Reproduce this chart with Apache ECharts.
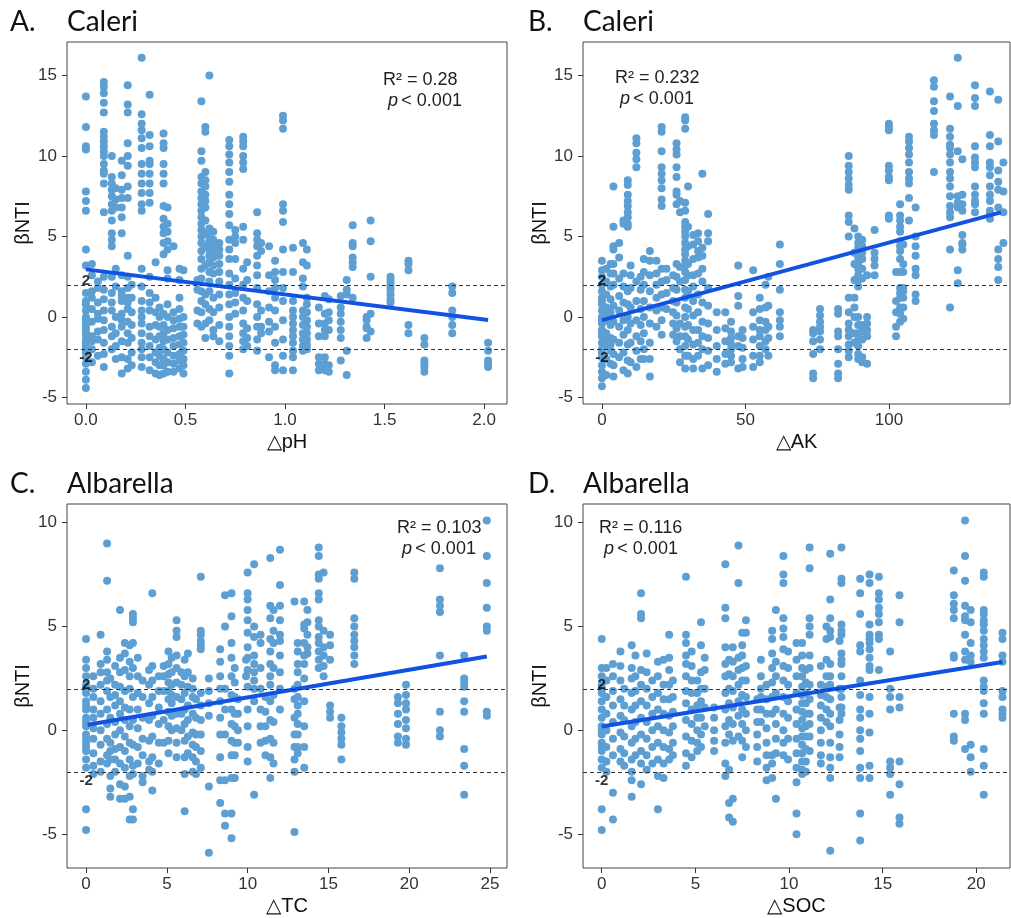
<!DOCTYPE html>
<html>
<head>
<meta charset="utf-8">
<script src="https://cdn.jsdelivr.net/npm/echarts@6/dist/echarts.min.js"></script>
<style>
html,body{margin:0;padding:0;background:#fff;}
#chart{width:1011px;height:918px;}
</style>
</head>
<body>
<div id="chart"></div>
<script>
// ---------- DATA (columns: [x, [beta NTI values]]) ----------
const caleriPH = [
 [0.00,[13.7,11.8,10.6,10.4,7.8,7.2,6.6,4.2,3.2,1.5,1.0,0.4,0.0,-0.4,-0.8,-1.1,-1.4,-1.8,-2.2,-2.5,-2.9,-3.4,-3.9,-4.4,-0.2,-1.0,-1.6,-2.0,0.8,-0.6]],
 [0.03,[3.3,2.6,1.6,0.5,-0.3,-1.2,-2.0,-2.8,1.2,-1.5]],
 [0.06,[1.8,0.9,-0.1,-0.9,-1.4,-2.4,2.2,0.2]],
 [0.09,[14.6,14.3,13.9,13.3,12.7,11.5,11.2,10.9,10.6,10.3,10.0,9.5,9.1,8.9,8.3,6.5,2.5,1.7,1.1,0.4,-0.2,-0.8,-1.6,-2.3,-3.1]],
 [0.13,[10.0,8.7,8.3,7.9,7.5,7.0,6.6,6.0,5.2,4.8,4.4,2.5,1.5,0.4,-0.6,-1.2,-2.0,0.9]],
 [0.15,[8.0,7.3,6.8,3.0,1.9,0.0,-1.0,-1.8,-2.6]],
 [0.18,[9.7,8.8,7.9,7.4,6.8,6.2,5.2,2.6,1.6,1.0,0.2,-0.6,-1.5,-2.5,-3.5,1.3,-0.2]],
 [0.21,[14.4,13.2,12.7,10.8,10.0,9.4,8.1,7.4,3.8,2.5,1.8,1.2,0.5,-0.3,-1.6,-2.6,-3.2,0.9,-1.0]],
 [0.23,[2.0,1.2,0.3,-0.5,-1.3,-2.2,-3.0]],
 [0.28,[16.1,12.6,12.0,11.6,11.1,10.5,9.5,8.9,8.3,7.7,7.0,6.6,3.0,1.9,1.0,0.4,-0.4,-1.0,-1.6,-2.5,-3.1,-2.0,0.0]],
 [0.32,[13.8,11.3,10.6,9.7,9.5,8.9,8.3,7.7,7.1,2.5,1.5,0.9,0.4,-0.6,-1.2,-1.8,-2.5,-3.3]],
 [0.35,[3.4,1.2,0.3,-0.5,-1.4,-2.2,-2.8,-3.5]],
 [0.37,[0.6,0.0,-0.6,-1.2,-1.9,-2.4,-3.0,-3.6]],
 [0.39,[11.4,10.8,10.5,9.5,8.9,8.3,6.9,6.1,5.6,5.2,4.6,3.9,-0.5,-1.0,-1.5,-2.0,-2.6,-3.0,0.2,-3.5]],
 [0.41,[6.8,5.8,5.3,4.7,4.2,2.9,2.4,0.8,0.0,-0.8,-1.4,-2.2,-2.8,-3.4]],
 [0.44,[4.4,0.3,-0.2,-0.7,-1.3,-1.8,-2.4,-2.9,-3.4]],
 [0.47,[3.0,2.3,1.2,0.5,-0.1,-0.6,-1.2,-1.7,-2.3,-2.7,-3.2]],
 [0.49,[2.9,0.0,-0.6,-1.1,-1.6,-2.1,-2.6,-3.0,-3.5]],
 [0.56,[2.3,1.7,0.4,-0.4]],
 [0.58,[13.4,10.3,9.7,8.7,8.3,7.8,7.4,7.0,6.6,6.2,5.8,5.4,5.0,4.6,4.1,3.6,3.0,2.4,1.6,1.0,0.3,-0.6]],
 [0.60,[11.8,11.5,9.0,8.5,8.1,7.6,7.2,6.8,6.0,5.2,4.4,3.2,1.4,0.8,-0.4,-1.3]],
 [0.62,[15.0,5.5,5.0,4.7,4.2,3.8,3.4,2.8,2.2,1.6,0.5,-0.2]],
 [0.64,[5.3,4.8,4.5,4.1,3.7,3.2,2.7,1.2,0.3,-0.8,-1.2]],
 [0.67,[4.6,4.2,3.8,3.3,2.8,2.2,1.4,0.6,-0.5,-1.5]],
 [0.72,[11.0,10.6,10.1,9.6,9.0,8.4,7.6,7.0,6.4,5.7,4.8,4.2,3.6,2.7,2.0,1.4,0.8,0.0,-0.6,-1.2,-1.8,-2.4,-3.5]],
 [0.75,[5.4,5.0,4.6,3.6,2.4,1.5,0.9,0.2]],
 [0.79,[11.2,10.9,10.6,10.0,9.6,9.2,5.6,4.8,3.0,2.0,1.2,0.4,-0.4,-1.0,-1.5,-2.0]],
 [0.81,[3.4,2.3,1.0,-0.7,-1.3,-1.8]],
 [0.86,[6.5,5.2,4.8,4.4,3.8,3.2,2.6,1.8,0.8,0.0,-0.6,-1.4,-2.1]],
 [0.88,[4.6,4.1,0.4,-0.6,-1.0]],
 [0.92,[4.4,2.6,1.6,0.6,-0.3,-0.9,-2.5]],
 [0.95,[3.5,2.8,2.3,1.8,1.2,0.4,-0.6,-1.6,-3.0,-3.3]],
 [0.99,[12.5,12.2,11.7,7.0,6.6,5.9,4.2,2.8,1.8,1.0,-0.2,-1.4,-2.4,-3.3]],
 [1.04,[4.3,2.8,1.0,0.4,0.0,-0.4,-0.8,-1.2,-1.6,-2.1,-2.5,-3.3]],
 [1.09,[4.6,3.4,2.4,1.9,0.4,0.0,-0.5,-1.0,-1.4,-1.8,-2.1]],
 [1.11,[4.2,3.2,1.2,0.8,0.3,-0.2,-0.6,-1.0,-1.4,-1.7,-2.0]],
 [1.17,[0.6,-0.4,-1.2,-2.5,-2.9,-3.3]],
 [1.20,[1.3,0.2,-0.4,-0.8,-1.2,-2.5,-2.9,-3.3]],
 [1.22,[1.1,0.3,-0.2,-0.8,-3.0,-3.4]],
 [1.28,[1.3,0.6,0.2,-0.3,-0.8,-1.3,-2.7]],
 [1.31,[2.3,1.7,1.4,-2.1,-3.6]],
 [1.34,[5.7,4.6,4.4,3.7,3.4,3.1,1.2]],
 [1.41,[0.0,-0.2,-0.6,-0.7,-1.3]],
 [1.43,[6.0,4.7,2.5,0.2,-0.9]],
 [1.53,[2.5,2.3,2.1,1.9,1.7,1.4,1.1,0.9]],
 [1.62,[3.5,3.3,2.9,-0.5,-1.0]],
 [1.70,[-1.3,-1.7,-2.7,-2.9,-3.1,-3.4]],
 [1.84,[1.9,1.5,0.4,0.0,-0.5,-1.0]],
 [2.02,[-1.6,-2.1,-2.7,-2.9,-3.1]]
];
const caleriAK = [
 [0,[3.5,2.9,2.5,2.0,1.6,1.2,0.8,0.4,0.0,-0.4,-0.8,-1.2,-1.6,-2.0,-2.5,-3.0,-3.4,-3.8,-4.3,1.0,-0.2,-1.0,-2.2]],
 [1.5,[3.0,2.2,1.4,0.6,-0.2,-1.0,-1.8,-2.6,-3.6,0.2,-1.4]],
 [3,[3.3,2.7,1.9,1.1,0.3,-0.5,-1.3,-2.1,-2.9,-1.7]],
 [4,[8.1,5.6,4.4,4.2,3.3,2.7,2.0,0.7,-0.3,-1.4,-2.3,-3.0,-3.7]],
 [6,[4.6,3.7,2.4,1.3,0.4,-0.6,-1.6,-2.5]],
 [7.5,[6.0,5.8,2.7,1.9,0.9,-0.2,-1.1,-2.2,-3.3]],
 [9,[8.5,8.2,7.6,7.2,6.9,6.5,6.2,5.8,5.6,1.6,0.8,0.0,-0.8,-1.7,-2.7,-3.5]],
 [10,[3.2,2.6,1.8,0.6,-0.4,-1.6,-2.8]],
 [12,[11.1,10.8,10.2,9.8,9.3,2.2,1.0,-0.2,-1.2,-2.1,-3.1]],
 [13.5,[2.5,1.7,0.5,-0.5,-1.5,-2.6]],
 [14.6,[3.6,2.8,2.0,1.0,0.0,-1.0,-2.0,-2.6]],
 [16.7,[4.1,3.5,2.6,1.6,0.6,-0.4,-1.6,-2.6,-3.7]],
 [19,[3.5,2.7,2.0,1.2,0.4,-0.6]],
 [20.8,[11.8,11.5,10.3,9.3,8.9,8.5,8.0,7.3,6.9,3.0,2.2,1.4,0.6,-0.2,-1.1]],
 [22.5,[3.0,2.3,1.5,0.5]],
 [24.8,[2.6,1.8,1.0,0.3,-0.4,-1.1]],
 [26,[10.8,10.4,10.1,9.3,8.7,7.8,7.6,7.0,3.3,2.5,1.7,0.9,0.1,-0.7,-1.5]],
 [27.2,[7.2,6.5,3.1,2.2,-0.4,-1.2,-2.0,-2.8]],
 [29,[12.4,12.2,11.7,7.1,6.6,5.9,5.6,5.3,5.0,4.6,4.2,3.9,3.5,3.2,2.8,2.3,1.7,1.2,0.6,0.0,-0.6,-1.2,-1.8,-2.4,-3.2]],
 [30,[8.1,5.6,4.4,3.3,2.6,1.6,0.5,-0.5,-1.4,-2.4]],
 [31.8,[5.1,4.5,3.6,2.6,1.9,1.0,0.1,-0.8,-1.7,-2.6,-3.2]],
 [33.5,[5.2,4.7,4.1,3.7,2.7,1.4,0.3,-0.8,-1.6,-2.4]],
 [35,[8.9,4.3,3.8,3.0,2.2,0.9,-0.3,-1.2,-2.0,-3.2]],
 [37,[6.4,5.2,4.7,1.8,0.7,-0.4,-1.3,-2.1,-3.0]],
 [40,[0.3,-0.8,-1.8,-2.6,-3.4]],
 [43,[0.3,-0.7,-1.5,-2.3,-2.9]],
 [45,[-0.3,-0.9,-1.3,-1.7,-2.0,-2.4,-2.8]],
 [47.5,[3.2,1.3,0.7,-1.2,-1.8,-3.2]],
 [49,[-0.8,-1.3,-1.9,-2.6,-3.1]],
 [52.7,[2.9,0.3,-0.6,-1.4,-2.4,-3.1]],
 [55,[1.2,0.5,-0.2,-0.8,-1.2,-1.8,-2.4,-2.8]],
 [57,[2.0,0.6,-0.3,-0.8,-1.5,-2.0]],
 [58,[2.5,0.7,-0.6,-1.3,-2.4]],
 [62,[4.5,3.3,1.7,0.3,-0.2,-0.6,-1.2]],
 [73.6,[-0.8,-1.0,-1.5,-2.3,-3.5,-3.8]],
 [76,[0.5,0.1,-0.3,-0.6,-0.9,-1.4,-2.0]],
 [82.3,[0.5,0.2,-0.9,-1.2,-2.0,-2.9,-3.5,-3.8]],
 [86,[10.0,9.4,9.0,8.6,8.2,7.9,6.3,5.9,5.0,1.2,0.3,-0.4,-0.8,-1.2,-1.7,-2.1,-2.5]],
 [88,[5.5,4.0,3.3,2.3,1.2,0.6,0.0,-1.0,-1.6]],
 [89.3,[5.0,4.6,4.3,3.7,3.3,3.0,2.6,2.3,1.9,0.0,-0.5,-1.0,-1.4,-1.8,-2.3,-2.6]],
 [90.7,[4.8,4.4,4.0,3.6,3.0,2.4,-0.5,-0.9,-1.4,-2.5,-2.8]],
 [92.4,[2.6,0.0,-0.4,-0.8,-1.2,-2.9]],
 [95,[5.4,4.0,3.6,3.2,2.6]],
 [100,[12.0,11.8,11.6,9.4,9.1,8.7,8.5,6.3,6.1]],
 [102.5,[2.8,1.0,0.3,-0.6,-1.2]],
 [103.9,[7.0,6.3,6.0,5.6,5.3,4.7,4.4,4.1,3.6,2.8,1.8,1.5,1.2,0.6,0.2,-0.3]],
 [105,[4.5,3.3,2.8,1.8,1.6,1.2,0.6,-0.1]],
 [107,[11.2,10.9,10.5,10.1,9.6,9.0,8.6,8.3,7.4,6.0]],
 [109.3,[6.8,5.0,4.4,3.8,3.0,2.6,1.4,1.0]],
 [115.7,[14.7,14.3,13.4,12.8,12.0,11.6,11.3,9.0]],
 [121.3,[13.7,11.7,11.2,10.7,10.5,10.1,9.6,9.0,8.6,8.1,7.5,6.9,6.5,6.2,4.2,0.6]],
 [124,[16.1,13.1,10.3,7.5,7.1,6.8,2.9,2.1]],
 [125.6,[9.8,7.6,7.0,6.6,5.1,4.6,4.5,4.2]],
 [130,[14.4,13.6,13.1,10.6,9.9,9.6,9.3,8.1,7.6,7.2,7.0,6.5]],
 [135.2,[14.0,11.3,10.6,9.6,9.3,8.8,8.1,7.6,7.2,6.6,6.4,6.1]],
 [138.1,[13.5,10.9,9.1,8.4,7.9,6.8,4.2,3.6,3.1,2.3]],
 [139.9,[9.6,7.8,6.5,4.6]]
];
const albarellaTC = [
 [0,[4.4,3.4,3.0,2.6,2.2,1.8,1.4,1.0,0.6,0.2,-0.2,-0.6,-1.0,-1.4,-1.8,2.0,0.4,-0.8,-3.8,-4.8,1.2,-0.4]],
 [0.45,[2.6,2.0,1.6,1.0,0.6,0.1,-0.4,-1.1,-1.7,-2.1]],
 [0.9,[4.6,3.2,2.8,2.2,1.4,0.8,0.0,-0.7,-1.5,-2.0]],
 [1.3,[9.0,7.2,3.8,3.4,2.8,2.4,1.9,1.0,0.3,-0.4,-1.2,-1.6]],
 [1.5,[2.5,1.6,0.6,-0.6,-1.0,-1.4,-2.2,-2.8,-3.2]],
 [1.8,[3.1,2.2,1.7,1.2,0.4,-0.2,-0.9,-1.4,-2.0]],
 [2.1,[5.8,3.5,2.8,2.1,1.4,0.8,0.0,-0.8,-1.6,-2.6,-3.3]],
 [2.4,[4.2,3.7,2.9,1.9,1.1,0.5,-0.3,-1.0,-1.8,-2.7,-3.3]],
 [2.7,[4.1,3.3,2.6,2.0,1.0,0.2,-0.6,-1.4,-2.2,-3.2,-4.3]],
 [2.9,[5.6,5.4,5.2,4.2,3.0,1.6,0.5,-0.7,-1.7,-2.1,-3.8,-4.3]],
 [3.2,[3.5,2.6,1.8,1.0,0.1,-0.8,-1.6]],
 [3.5,[2.4,1.6,0.6,-0.4,-1.2,-2.2,-2.5]],
 [3.9,[2.9,2.2,1.3,0.5,-0.5,-1.5,-1.9]],
 [4.1,[6.6,3.1,2.4,1.6,0.7,-0.3,-1.3,-2.0,-2.9]],
 [4.5,[2.6,1.9,1.1,0.3,-0.6,-1.6]],
 [4.8,[3.1,2.6,1.9,0.5,-0.6]],
 [5.1,[3.8,3.2,2.7,2.3,1.9,1.5,0.9,0.2,-0.5,-1.1]],
 [5.3,[3.5,2.8,2.2,1.7,1.3,0.7,0.0]],
 [5.6,[5.3,4.8,4.5,3.6,3.0,2.3,1.6,0.8,0.1,-0.6,-1.3]],
 [5.9,[2.8,2.2,1.5,0.8,0.0]],
 [6.1,[3.4,2.6,1.8,1.0,0.3,-0.5,-1.3,-2.1,-3.9]],
 [6.3,[3.7,2.8,2.1,1.2,0.5,-0.3,-1.1]],
 [6.6,[2.5,2.0,1.6,0.8,-0.1,-0.7,-1.3,-2.0]],
 [6.8,[1.5,0.6,-0.2,-0.8,-1.5,-2.1]],
 [7.1,[7.4,4.8,4.6,4.3,4.1,3.9,1.8,1.2,0.5,-0.2,-1.0,-1.8]],
 [7.6,[2.5,1.9,1.3,0.7,-2.7,-5.9]],
 [8.3,[3.9,3.3,2.6,2.0,1.4,0.6,-0.2,-1.3,-2.4,-3.5]],
 [8.6,[6.5,5.0,2.0,1.0,-0.2,-2.4,-4.0,-4.6]],
 [9.0,[6.6,5.5,4.2,3.5,2.6,1.7,1.0,0.3,-0.5,-1.2,-2.3,-4.0,-5.2]],
 [9.2,[3.0,2.3,1.6,0.8,0.2,-0.6,-1.2,-2.3]],
 [9.4,[1.5,0.8,0.0,-0.6]],
 [9.9,[3.4,2.6]],
 [10.0,[7.6,6.6,6.3,5.8,5.3,4.7,4.0,3.5,2.9,2.1,1.0,0.2,-0.8,-1.5]],
 [10.4,[8.0,5.0,4.5,3.6,3.2,2.8,2.4,2.0,1.4,-3.1]],
 [10.8,[4.6,4.2,3.0,2.0,1.0,0.2,-0.6]],
 [11.1,[1.6,0.9,0.2,-0.5,-1.2]],
 [11.4,[8.3,6.0,5.4,4.4,3.8,3.2,2.6,2.2,1.4,0.5,-0.4,-1.3,-2.3]],
 [11.6,[5.8,4.8,4.2,3.0,1.7,0.4,-0.6,-1.6]],
 [12.0,[8.7,7.0,6.0,5.3,4.6,4.3,3.6,2.8,2.0,1.0]],
 [12.9,[6.2,2.0,1.5,0.6,-0.2,-0.8,-1.4,-2.0,-4.9]],
 [13.1,[4.2,3.8,3.2,2.8,2.2,1.6,1.2,0.8,0.3,-0.2,-0.8,-1.1]],
 [13.5,[6.2,5.1,4.9,4.2,3.6,3.2,2.5,1.4,0.2,-0.8,-1.8]],
 [13.7,[5.8,5.2,4.6,4.0,3.7]],
 [14.4,[8.8,8.4,7.5,7.3,6.6,6.3,5.3,5.0,4.5,4.2,3.8,3.4,3.0]],
 [14.7,[7.6,4.8,4.0,3.6,3.1,2.6]],
 [15.1,[4.6,4.1,3.4,1.2,0.9,0.6]],
 [15.8,[0.6,0.2,-0.1,-0.4,-0.7,-1.4]],
 [16.6,[7.6,7.3,5.4,5.0,4.6,4.3,4.0,3.6,3.2]],
 [19.3,[1.6,1.3,0.8,0.3,-0.3,-0.6]],
 [19.8,[2.2,1.7,1.3,1.0,0.5,0.1,-0.4,-0.7]],
 [21.9,[7.8,6.3,6.0,5.7,3.6,0.9,0.0,-0.3]],
 [23.4,[3.6,2.5,2.3,2.1,1.4,0.9,-0.9,-1.7,-3.1]],
 [24.8,[10.1,8.4,7.1,5.9,5.0,4.8,0.9,0.7]]
];
const albarellaSOC = [
 [0,[4.4,3.0,2.6,2.2,1.8,1.4,1.0,0.6,0.2,-0.2,-0.6,-1.0,-1.4,-1.8,-3.8,-4.8,2.0,0.0,-0.8]],
 [0.25,[3.0,2.4,1.6,0.8,0.0,-0.8,-1.5,-2.0]],
 [0.6,[3.2,2.6,1.9,1.2,0.4,-0.4,-1.2,-3.0,-4.3]],
 [1.0,[3.8,3.1,2.4,1.5,0.7,-0.1,-0.9,-1.5]],
 [1.2,[2.0,1.2,0.5,-0.3,-1.1,-1.7]],
 [1.6,[4.1,3.0,2.5,1.8,1.0,0.2,-0.6,-1.4,-2.0,-2.4,-3.2]],
 [1.8,[3.6,2.6,1.9,1.2,0.4,-0.4,-1.2]],
 [2.1,[6.6,5.6,5.4,2.9,2.2,1.4,0.6,-0.2,-1.0,-1.6,-2.6]],
 [2.4,[3.7,2.8,2.0,1.2,0.4,-0.4,-1.2,-1.9]],
 [2.7,[2.4,1.6,0.8,0.0,-0.8,-1.6]],
 [3.0,[3.3,2.6,1.8,1.0,0.2,-0.6,-1.4,-2.2,-3.8]],
 [3.3,[3.4,2.2,1.5,0.8,0.0,-0.8,-1.6,-2.3]],
 [3.6,[4.6,3.5,2.9,2.2,1.5,0.7,-0.1,-0.9,-1.4]],
 [3.8,[2.4,1.6,0.9,0.2,-0.6,-1.2]],
 [4.5,[7.4,4.6,4.2,3.6,3.2,2.6,1.9,1.3,0.5,-0.3,-1.1,-1.7]],
 [4.8,[3.8,3.1,2.4,1.8,1.0,0.3,-0.5,-1.3]],
 [5.1,[2.4,1.8,1.2,0.6,0.0,-0.6,-1.0]],
 [5.3,[5.2,4.1,2.8,2.0,1.4,0.6,-0.2,-0.8]],
 [5.5,[3.5,2.9,2.0,1.1,0.2]],
 [6.0,[1.1,0.6,0.0,-0.5,-1.0]],
 [6.6,[8.0,5.9,5.4,4.0,3.2,2.6,1.8,1.0,0.2,-0.6,-1.6,-2.2]],
 [6.8,[3.4,2.7,2.0,1.3,0.5,-0.2,-1.9,-3.5,-4.2]],
 [7.0,[4.0,3.3,2.6,1.9,1.1,0.3,-0.5,-3.3,-4.4]],
 [7.3,[8.9,7.1,3.5,2.9,2.2,1.4,0.7,-0.3]],
 [7.5,[4.7,4.1,3.6,3.0,2.4,1.7,1.0,0.3,-0.5,-1.3]],
 [7.7,[5.3,4.7,3.1,2.4,1.6,0.8,0.0,-0.8]],
 [8.3,[1.5,1.0,0.4,-0.2,-0.8,-1.5]],
 [8.5,[3.4,2.6,2.0,1.6,1.0,0.4]],
 [8.8,[2.2,1.5,0.8,0.1,-0.6,-1.2,-1.8,-2.4]],
 [9.1,[4.8,4.4,3.7,3.0,2.3,1.6,0.8,-1.2,-1.6,-2.3]],
 [9.3,[5.8,3.3,2.6,1.8,1.0,0.3,-0.4,-1.1,-3.3]],
 [9.7,[8.4,7.5,7.1,5.4,4.9,4.5,3.9,3.1,2.4,1.6,0.8,0.0,-0.6,-1.2]],
 [9.95,[3.8,3.0,2.2,1.4,0.6,-0.4,-1.4]],
 [10.4,[4.2,3.4,2.6,1.8,1.0,0.3,-0.4,-1.1,-1.8,-2.5,-4.0,-5.0]],
 [10.7,[4.2,3.6,3.0,2.6,2.1,1.7,1.3,0.9,0.5,0.1,-0.3,-0.7,-1.1,-1.5,-1.9,-2.1]],
 [10.9,[2.9,2.3,1.8,1.3,0.8,0.2,-0.3,-0.9,-1.5,-2.0]],
 [11.1,[8.8,7.8,5.4,5.0,4.6,3.6,3.0,2.2,1.5,0.8,0.3,-0.3,-1.0]],
 [11.7,[3.1,2.2,1.7,1.2,0.6,0.0,-0.6,-1.2,-1.6]],
 [12.0,[5.0,4.4,3.4,2.6,2.1,1.6,1.0,0.4]],
 [12.2,[8.5,6.3,5.4,4.8,4.5,3.2,2.6,2.2,1.5,0.8,0.2,-0.6,-1.3,-1.8,-2.3,-5.8]],
 [12.7,[4.3,2.0,1.1,0.5,-0.2,-0.8,-1.3]],
 [12.8,[8.8,7.3,7.1,5.1,4.8,4.6,3.7,3.4,3.2,2.6,2.0,1.6,1.1,0.8]],
 [13.8,[7.3,6.6,5.6,4.1,3.8,2.4,1.7,1.0,0.6,0.0,-0.4,-1.0,-1.8,-2.3,-4.0,-5.3]],
 [14.3,[7.5,7.1,5.1,4.6,4.4,4.2,3.9,3.5,3.1,2.9,1.6,0.8,-0.1,-1.7,-2.3]],
 [14.8,[7.4,6.6,6.3,5.9,5.6,5.2,4.6,4.4,2.9]],
 [15.4,[3.8,2.0,1.6,1.0,-1.5,-1.8,-2.1,-3.1]],
 [15.9,[6.5,5.2,1.6,1.1,-1.5,-2.6,-4.2,-4.5]],
 [18.8,[7.7,6.5,6.1,5.8,5.4,3.6,3.5,0.8,-0.3,-0.5]],
 [19.4,[10.1,8.4,7.2,6.0,5.5,5.3,4.6,3.8,3.4,0.8,0.5,-0.9]],
 [19.7,[5.8,5.2,4.2,3.6,3.3,-0.7,-1.3,-2.0]],
 [20.4,[7.6,7.4,5.8,5.6,5.3,5.1,4.8,4.4,4.1,3.8,3.5,2.4,2.1,1.9,1.3,0.8,-0.9,-1.7,-3.1]],
 [21.4,[4.7,4.4,3.6,3.3,1.9,1.6,1.0,0.8,0.6]]
];
// fitted regression lines (endpoints)
const fitPH  = [[0.0, 2.96], [2.02, -0.19]];
const fitAK  = [[0, -0.19], [139, 6.5]];
const fitTC  = [[0.1, 0.27], [24.8, 3.56]];
const fitSOC = [[0, 0.18], [21.4, 3.29]];
// reference thresholds
const refLevels = [2, -2];
// axis ticks
const ticksPH  = [0, 0.5, 1.0, 1.5, 2.0];
const ticksAK  = [0, 50, 100];
const ticksTC  = [0, 5, 10, 15, 20, 25];
const ticksSOC = [0, 5, 10, 15, 20];
const ticksYtop = [-5, 0, 5, 10, 15];
const ticksYbot = [-5, 0, 5, 10];
// panel texts
const panelLetters = ['A.', 'B.', 'C.', 'D.'];
const siteNames = ['Caleri', 'Caleri', 'Albarella', 'Albarella'];
const xNames = ['\u25B3pH', '\u25B3AK', '\u25B3TC', '\u25B3SOC'];
const r2Values = ['0.28', '0.232', '0.103', '0.116'];
const pText = '< 0.001';

// ---------- LAYOUT ----------
const grids = [
  {left: 67, top: 42, width: 440, height: 362},
  {left: 583, top: 42, width: 427, height: 362},
  {left: 67, top: 504, width: 440, height: 364},
  {left: 583, top: 504, width: 427, height: 364}
];
const xRanges = [[-0.095, 2.115], [-6.6, 142.2], [-1.18, 26.05], [-1.0, 21.8]];
const yRanges = [[-5.4, 17.08], [-5.4, 17.08], [-6.63, 10.9], [-6.63, 10.9]];
const xTicks = [ticksPH, ticksAK, ticksTC, ticksSOC];
const yTicks = [ticksYtop, ticksYtop, ticksYbot, ticksYbot];
const yNameGaps = [34, 28, 34, 28];
const statPos = [[383, 71], [615, 69], [397, 519], [599, 519]];
const titlePos = [[10, 8], [528, 8], [10, 470], [528, 470]];

const FONT = '"Liberation Sans", Arial, sans-serif';
const TFONT = 'Lato, "Open Sans", sans-serif';
const pointColor = '#5d9fd2';
const fitColor = '#1252e3';

function flatten(cols) {
  const out = [];
  cols.forEach(c => c[1].forEach(y => out.push([c[0], y])));
  return out;
}
const panelData = [caleriPH, caleriAK, albarellaTC, albarellaSOC].map(flatten);
const fits = [fitPH, fitAK, fitTC, fitSOC];

const xAxis = [], yAxis = [], series = [], graphic = [];
for (let i = 0; i < 4; i++) {
  xAxis.push({
    gridIndex: i, type: 'value', min: xRanges[i][0], max: xRanges[i][1], position: 'bottom',
    axisLine: {show: false, onZero: false}, splitLine: {show: false},
    axisTick: {show: true, customValues: xTicks[i], length: 5, inside: false, lineStyle: {color: '#333', width: 1}},
    axisLabel: {customValues: xTicks[i], fontSize: 17, color: '#333', margin: 8, fontFamily: FONT,
      formatter: v => i === 0 ? v.toFixed(1) : String(v)},
    name: xNames[i], nameLocation: 'middle', nameGap: 28,
    nameTextStyle: {fontSize: 20, color: '#111', fontFamily: FONT}
  });
  yAxis.push({
    gridIndex: i, type: 'value', min: yRanges[i][0], max: yRanges[i][1], position: 'left',
    axisLine: {show: false, onZero: false}, splitLine: {show: false},
    axisTick: {show: true, customValues: yTicks[i], length: 5, lineStyle: {color: '#333', width: 1}},
    axisLabel: {customValues: yTicks[i], fontSize: 17, color: '#333', margin: 10, fontFamily: FONT},
    name: '\u03B2NTI', nameLocation: 'middle', nameGap: yNameGaps[i], nameRotate: 90,
    nameTextStyle: {fontSize: 20, color: '#111', fontFamily: FONT}
  });
  series.push({
    type: 'scatter', xAxisIndex: i, yAxisIndex: i, data: panelData[i],
    symbol: 'circle', symbolSize: 8, itemStyle: {color: pointColor, opacity: 1},
    silent: true, z: 2,
    markLine: {
      silent: true, symbol: 'none', animation: false,
      lineStyle: {type: [4, 3], color: '#333', width: 1},
      label: {show: false},
      data: refLevels.map(v => ({yAxis: v}))
    }
  });
  series.push({
    type: 'line', xAxisIndex: i, yAxisIndex: i, data: fits[i],
    symbol: 'none', lineStyle: {color: fitColor, width: 4}, silent: true, z: 4
  });
  series.push({
    type: 'scatter', xAxisIndex: i, yAxisIndex: i, symbolSize: 0, silent: true, z: 5,
    data: refLevels.map(v => ({value: [0, v], label: {offset: [0, v > 0 ? -4 : 9]}})),
    label: {show: true, position: 'inside', formatter: p => String(p.value[1]),
      fontSize: 15, fontWeight: 'bold', color: '#000', fontFamily: FONT}
  });
  graphic.push({
    type: 'text', left: titlePos[i][0], top: titlePos[i][1],
    style: {text: panelLetters[i], fontSize: 28, fontFamily: TFONT, fill: '#111'}
  });
  graphic.push({
    type: 'text', left: grids[i].left, top: titlePos[i][1],
    style: {text: siteNames[i], fontSize: 28, fontFamily: TFONT, fill: '#111'}
  });
  graphic.push({
    type: 'text', left: statPos[i][0], top: statPos[i][1],
    style: {text: 'R\u00B2 = ' + r2Values[i], fontSize: 18, fontFamily: FONT, fill: '#222'}
  });
  graphic.push({
    type: 'text', left: statPos[i][0] + 5, top: statPos[i][1] + 21,
    style: {text: '{i|p} {n|' + pText + '}', fontFamily: FONT,
      rich: {i: {fontStyle: 'italic', fontSize: 18, fill: '#222', fontFamily: FONT},
             n: {fontSize: 18, fill: '#222', fontFamily: FONT}}}
  });
}

const chart = echarts.init(document.getElementById('chart'), null, {renderer: 'canvas'});
chart.setOption({
  animation: false,
  backgroundColor: '#fff',
  grid: grids.map(g => Object.assign({show: true, borderColor: '#444', borderWidth: 1, backgroundColor: '#fff', containLabel: false}, g)),
  xAxis, yAxis, series, graphic
});
</script>
</body>
</html>
